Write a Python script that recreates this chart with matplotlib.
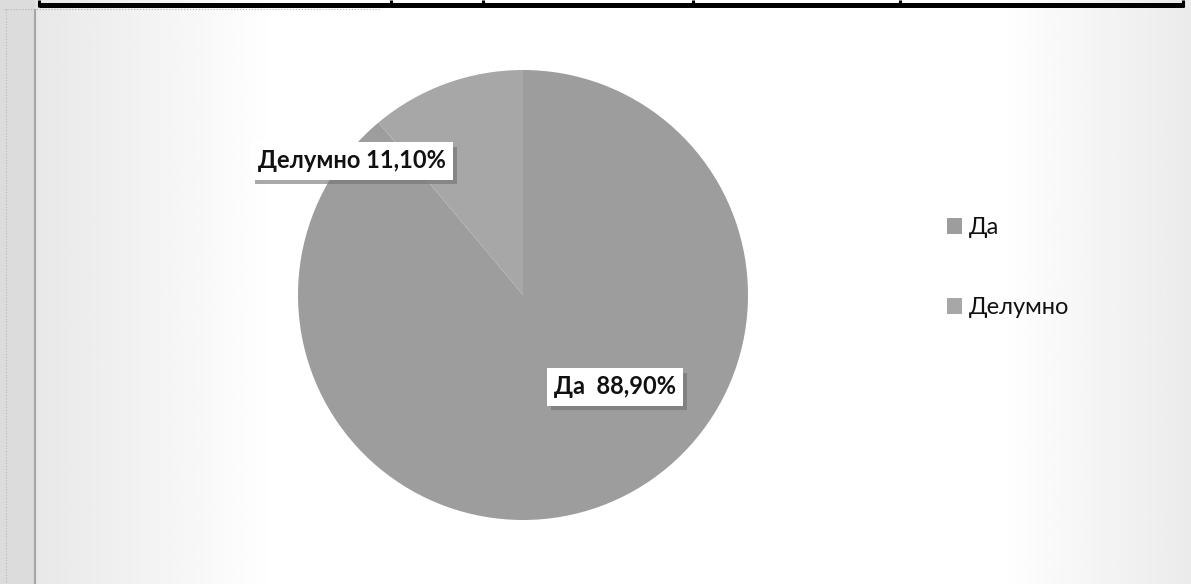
import matplotlib
matplotlib.use("Agg")
import matplotlib.pyplot as plt
import matplotlib.patheffects as pe
import numpy as np

# survey answers and their shares (percent)
categories = ["Да", "Делумно"]
shares = [88.9, 11.1]
label_gaps = ["  ", " "]
slice_colors = ["#9d9d9d", "#a7a7a7"]

W, H = 1191, 584
fig = plt.figure(figsize=(W / 100, H / 100), dpi=100)
fig.patch.set_facecolor("white")

# page background: greyish scan edges, white middle
bg = fig.add_axes([0, 0, 1, 1])
bg.set_xlim(0, W)
bg.set_ylim(H, 0)
bg.axis("off")
xs = np.linspace(0, 1, 400)
shade = np.ones_like(xs)
shade = np.minimum(shade, 0.91 + 0.09 * np.clip((xs - 0.03) / 0.20, 0, 1))
shade = np.minimum(shade, 1.0 - 0.08 * np.clip((xs - 0.84) / 0.16, 0, 1))
shade[xs < 0.03] = 0.86
grad = np.tile(shade, (50, 1))
bg.imshow(grad, cmap="gray", vmin=0, vmax=1, extent=[0, W, H, 0], aspect="auto", zorder=0)

# remains of the table border above the chart
bg.hlines(5, 39, 1184, color="black", lw=3.6, zorder=2)
for xv in [39, 391, 483, 693, 900, 1183]:
    bg.vlines(xv, 0, 7, color="black", lw=2.2, zorder=2)
bg.hlines(9, 4, 380, color="#b5b5b5", lw=0.8, ls=":", zorder=2)
bg.vlines(35, 9, H, color="#a5a5a5", lw=1.5, zorder=2)
bg.vlines(6, 9, H, color="#b8b8b8", lw=0.8, ls=":", zorder=2)

# pie
cx, cy, r = 523, 295, 225
ax = fig.add_axes([(cx - r) / W, (H - cy - r) / H, 2 * r / W, 2 * r / H])
wedges, _ = ax.pie(shares, colors=slice_colors, startangle=90, counterclock=False,
                   radius=1.0, wedgeprops=dict(linewidth=0))
ax.set_xlim(-1, 1)
ax.set_ylim(-1, 1)
ax.set_aspect("equal")
ax.axis("off")

# data labels in white boxes with a soft shadow
label_pos = [(615, 387), (352, 161)]
for name, val, gap, (px, py) in zip(categories, shares, label_gaps, label_pos):
    txt = f"{name}{gap}{val:.2f}%".replace(".", ",")
    t = fig.text(px / W, 1 - py / H, txt, ha="center", va="center",
                 fontsize=17, fontweight="bold", family=["Lato", "DejaVu Sans"],
                 color="#111111",
                 bbox=dict(boxstyle="square,pad=0.3", fc="white", ec="none"))
    t.get_bbox_patch().set_path_effects(
        [pe.withSimplePatchShadow(offset=(3, -3), shadow_rgbFace="#707070", alpha=0.6)])

leg = fig.legend(wedges, categories, loc="upper left",
                 bbox_to_anchor=(947 / W, 1 - 217 / H), frameon=False,
                 prop=dict(family=["Lato", "DejaVu Sans"], size=17),
                 handlelength=0.64, handleheight=0.64, handletextpad=0.28,
                 labelspacing=2.5, borderpad=0, borderaxespad=0)
for txt in leg.get_texts():
    txt.set_color("#111111")

fig.savefig("out.png", dpi=100, facecolor=fig.get_facecolor())
